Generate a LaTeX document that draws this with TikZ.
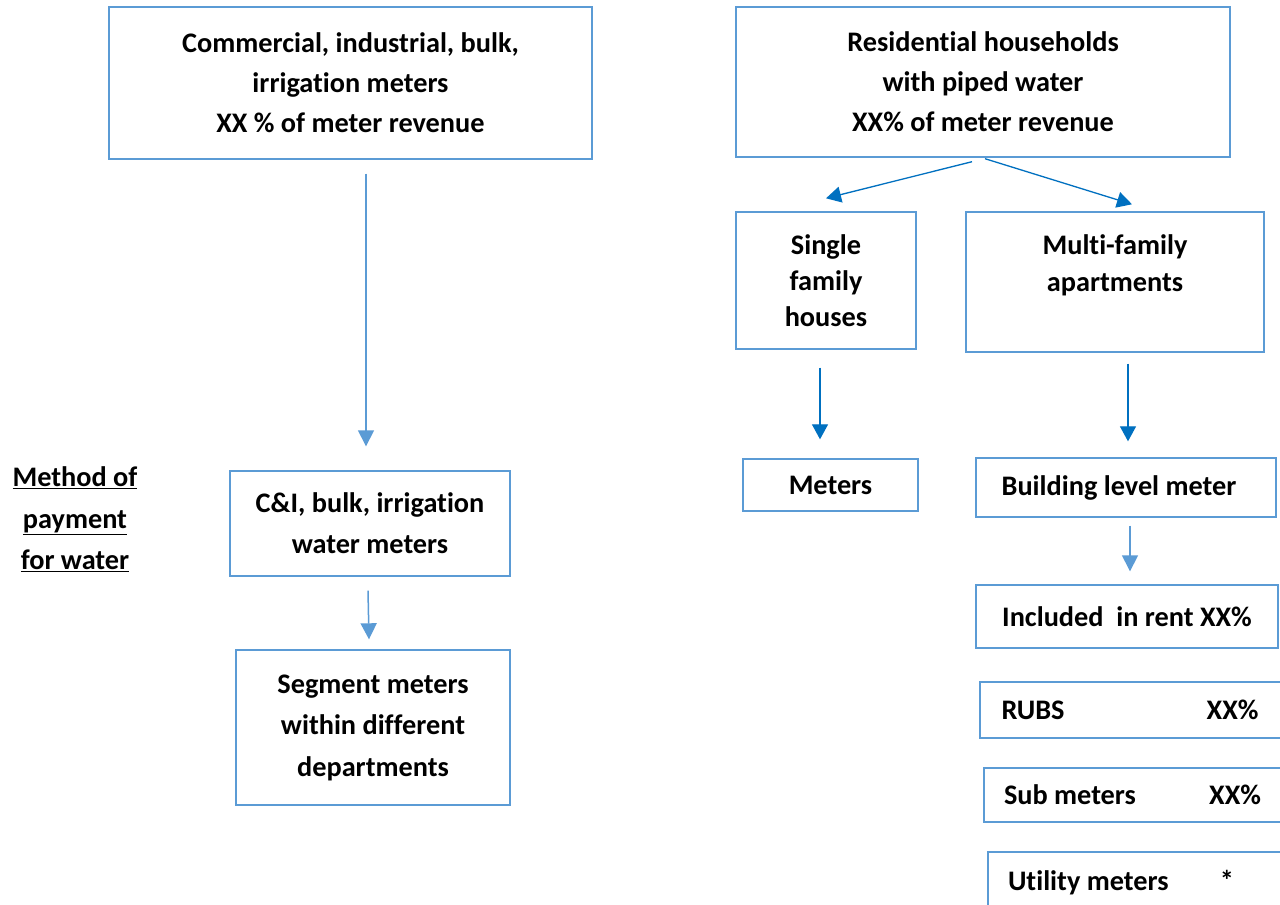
\documentclass[tikz,border=0pt]{standalone}
\usepackage{fontspec}
\setmainfont{Carlito}[Ligatures={NoCommon}]
\usetikzlibrary{arrows.meta}
\definecolor{boxblue}{HTML}{5B9BD5}
\definecolor{darkarrow}{HTML}{0070C0}
\definecolor{lightline}{HTML}{9DC3E6}
\definecolor{lighthead}{HTML}{5B9BD5}
\tikzset{
  box/.style={draw=boxblue, line width=1.4pt, align=center, inner sep=0pt,
    font=\fontsize{28.3}{40}\selectfont\bfseries, text=black},
  lbl/.style={align=center, inner sep=0pt, font=\fontsize{28.3}{41.5}\selectfont\bfseries},
  darr/.style={draw=darkarrow, line width=1.3pt, -{Triangle[width=16pt,length=15pt]}, darkarrow},
  larr/.style={draw=lightline, line width=1.5pt, -{Triangle[width=16pt,length=16pt,fill=lighthead]}, lighthead}
}
\begin{document}
\begin{tikzpicture}[x=1pt,y=-1pt]
\useasboundingbox (0,0) rectangle (1280,905);
\fill[white] (0,0) rectangle (1280,905);
% boxes
\node[box, minimum width=483pt, minimum height=152pt] (comm) at (350.5,83) {Commercial, industrial, bulk,\\irrigation meters\\XX \% of meter revenue};
\node[box, minimum width=494pt, minimum height=150pt] (res) at (983,82) {Residential households\\with piped water\\XX\% of meter revenue};
\node[box, minimum width=180pt, minimum height=137pt, font=\fontsize{28.3}{36}\selectfont\bfseries] (single) at (826,280.5) {Single\\family\\houses};
\node[box, minimum width=298pt, minimum height=140pt, font=\fontsize{28.3}{37}\selectfont\bfseries] (multi) at (1115,282) {Multi-family\\apartments\\ };
\node[box, minimum width=280pt, minimum height=105pt, font=\fontsize{28.3}{41}\selectfont\bfseries] (ci) at (370,523.5) {C\&I, bulk, irrigation\\water meters};
\node[box, minimum width=274pt, minimum height=155pt, font=\fontsize{28.3}{41.5}\selectfont\bfseries] (seg) at (373,727.5) {Segment meters\\within different\\departments};
\node[box, minimum width=175pt, minimum height=52pt] (meters) at (830.5,485) {Meters};
\node[box, minimum width=300pt, minimum height=59pt] (bldg) at (1126,487.5) {Building level meter\hspace{14pt}};
\node[box, minimum width=302pt, minimum height=63pt] (incl) at (1127,616.5) {Included\ \ in rent XX\%};
\node[box, minimum width=310pt, minimum height=56pt] (rubs) at (1135,710) {\makebox[267pt]{RUBS\hfill XX\%\hspace{10pt}}};
\node[box, minimum width=306pt, minimum height=54pt] (sub) at (1137,795) {\makebox[266pt]{Sub meters\hfill XX\%\hspace{9pt}}};
\node[box, minimum width=302pt, minimum height=62pt] (util) at (1139,883) {\makebox[262pt]{Utility meters\hfill *\hspace{36pt}}};
% side label
\node[lbl] (method) at (75,519.5) {\underline{Method of}\\\underline{payment}\\\underline{for water}};
% connectors
\draw[larr] ([xshift=15.5pt,yshift=-14pt]comm.south) -- ([xshift=-4pt,yshift=24pt]ci.north);
\draw[larr] ([xshift=-2pt,yshift=-14pt]ci.south) -- ([xshift=-4pt,yshift=10pt]seg.north);
\draw[darr] ([xshift=-11pt,yshift=-4pt]res.south) -- ([yshift=13pt]single.north);
\draw[darr] ([xshift=2pt,yshift=-1pt]res.south) -- ([xshift=17pt,yshift=7pt]multi.north);
\draw[darr] ([xshift=-6pt,yshift=-18pt]single.south) -- ([xshift=-10.5pt,yshift=19pt]meters.north);
\draw[darr] ([xshift=13pt,yshift=-11pt]multi.south) -- ([xshift=2pt,yshift=16pt]bldg.north);
\draw[larr] ([xshift=4pt,yshift=-8pt]bldg.south) -- ([xshift=3pt,yshift=13pt]incl.north);
\end{tikzpicture}
\end{document}
